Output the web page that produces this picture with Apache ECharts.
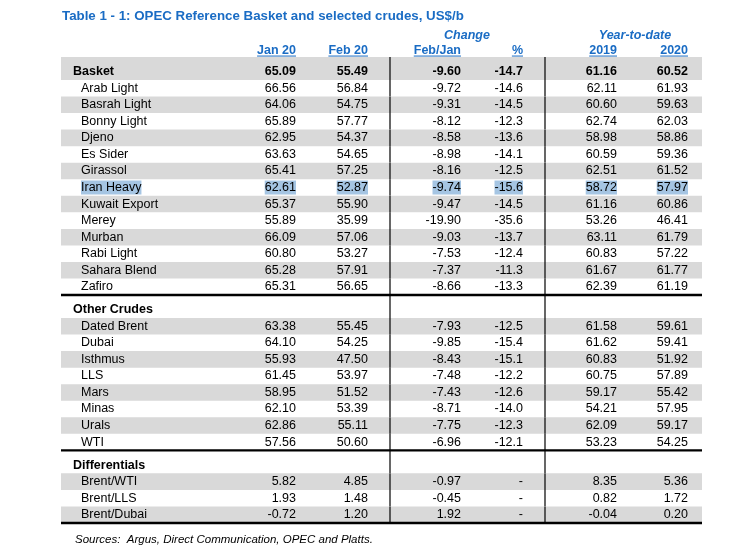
<!DOCTYPE html>
<html>
<head>
<meta charset="utf-8">
<script src="https://cdn.jsdelivr.net/npm/echarts@6/dist/echarts.min.js"></script>
<style>
	html, body { margin: 0; background: #fff; }
	#main { width: 749px; height: 551px; }
</style>
</head>
<body>
<div id="main"></div>
<script>
// ---- data ----
var sectionSizes = [14, 9, 4];
var rowNames = [
	'Basket', 'Arab Light', 'Basrah Light', 'Bonny Light', 'Djeno', 'Es Sider', 'Girassol',
	'Iran Heavy', 'Kuwait Export', 'Merey', 'Murban', 'Rabi Light', 'Sahara Blend', 'Zafiro',
	'Other Crudes', 'Dated Brent', 'Dubai', 'Isthmus', 'LLS', 'Mars', 'Minas', 'Urals', 'WTI',
	'Differentials', 'Brent/WTI', 'Brent/LLS', 'Brent/Dubai'
];
var jan20 = [
	65.09, 66.56, 64.06, 65.89, 62.95, 63.63, 65.41, 62.61, 65.37, 55.89, 66.09, 60.80, 65.28, 65.31,
	null, 63.38, 64.10, 55.93, 61.45, 58.95, 62.10, 62.86, 57.56,
	null, 5.82, 1.93, -0.72
];
var feb20 = [
	55.49, 56.84, 54.75, 57.77, 54.37, 54.65, 57.25, 52.87, 55.90, 35.99, 57.06, 53.27, 57.91, 56.65,
	null, 55.45, 54.25, 47.50, 53.97, 51.52, 53.39, 55.11, 50.60,
	null, 4.85, 1.48, 1.20
];
var changeFebJan = [
	-9.60, -9.72, -9.31, -8.12, -8.58, -8.98, -8.16, -9.74, -9.47, -19.90, -9.03, -7.53, -7.37, -8.66,
	null, -7.93, -9.85, -8.43, -7.48, -7.43, -8.71, -7.75, -6.96,
	null, -0.97, -0.45, 1.92
];
var changePct = [
	-14.7, -14.6, -14.5, -12.3, -13.6, -14.1, -12.5, -15.6, -14.5, -35.6, -13.7, -12.4, -11.3, -13.3,
	null, -12.5, -15.4, -15.1, -12.2, -12.6, -14.0, -12.3, -12.1,
	null, null, null, null
];
var ytd2019 = [
	61.16, 62.11, 60.60, 62.74, 58.98, 60.59, 62.51, 58.72, 61.16, 53.26, 63.11, 60.83, 61.67, 62.39,
	null, 61.58, 61.62, 60.83, 60.75, 59.17, 54.21, 62.09, 53.23,
	null, 8.35, 0.82, -0.04
];
var ytd2020 = [
	60.52, 61.93, 59.63, 62.03, 58.86, 59.36, 61.52, 57.97, 60.86, 46.41, 61.79, 57.22, 61.77, 61.19,
	null, 59.61, 59.41, 51.92, 57.89, 55.42, 57.95, 59.17, 54.25,
	null, 5.36, 1.72, 0.20
];
var columnHeads = ['Jan 20', 'Feb 20', 'Feb/Jan', '%', '2019', '2020'];
var groupHeads = ['Change', 'Year-to-date'];
var titleText = 'Table 1 - 1: OPEC Reference Basket and selected crudes, US$/b';
var sourceText = 'Sources:  Argus, Direct Communication, OPEC and Platts.';

// ---- layout / style ----
var FONT = '"Liberation Sans", Arial, sans-serif';
var FS = 12.5;
var BLUE = '#1a6cc4';
var BAND = '#d9d9d9';
var MARK = '#a5c5e3';
var markedRow = 'Iran Heavy';
var GAP = 0.39;                       // extra space above each section head, in rows
var TABLE_LEFT = 61, TABLE_RIGHT = 702;
var NAME_X = 73, ITEM_X = 81;
var colRight = [296, 368, 461, 523, 617, 688];
var groupCenter = [467, 635];
var dividers = [390, 545];
var YMIN = -0.5 - GAP;
var YMAX = rowNames.length - 1 + (sectionSizes.length - 1) * GAP + 0.5;

var sectionOf = [], rowInSection = [], rowY = [];
(function () {
	var k = 0;
	for (var s = 0; s < sectionSizes.length; s++) {
		for (var r = 0; r < sectionSizes[s]; r++) {
			sectionOf.push(s);
			rowInSection.push(r);
			rowY.push(k + s * GAP);
			k++;
		}
	}
})();

var measureCtx = document.createElement('canvas').getContext('2d');
function textWidth(txt, font) {
	measureCtx.font = font;
	return measureCtx.measureText(txt).width;
}

function fmt(v, d) {
	return v == null ? '' : v.toFixed(d);
}

function cellText(x, y, txt, bold, marked, align) {
	return {
		type: 'text',
		style: {
			x: x, y: y, text: txt,
			font: (bold ? 'bold ' : '') + FS + 'px ' + FONT,
			fill: '#000',
			align: align || 'right',
			verticalAlign: 'middle',
			backgroundColor: marked ? MARK : null,
			padding: marked ? [1, 0, 0, 0] : 0
		}
	};
}

function renderRow(params, api) {
	var k = params.dataIndex;
	var yc = api.value(1);
	var s = sectionOf[k], r = rowInSection[k];
	var isHead = r === 0;
	var top = isHead ? yc - 0.5 - GAP : yc - 0.5;
	var bottom = yc + 0.5;
	var p0 = api.coord([TABLE_LEFT, top]);
	var p1 = api.coord([TABLE_RIGHT, bottom]);
	var mid = api.coord([0, yc])[1];
	var children = [];

	var shaded = s === 0 ? r % 2 === 0 : r % 2 === 1;
	if (shaded) {
		children.push({
			type: 'rect',
			shape: { x: p0[0], y: p0[1], width: p1[0] - p0[0], height: p1[1] - p0[1] },
			style: { fill: BAND }
		});
	}
	dividers.forEach(function (dx) {
		var a = api.coord([dx, top]), b = api.coord([dx, bottom]);
		children.push({
			type: 'line',
			shape: { x1: a[0], y1: a[1], x2: b[0], y2: b[1] },
			style: { stroke: '#000', lineWidth: 1.2 }
		});
	});
	if (r === sectionSizes[s] - 1) {
		children.push({
			type: 'line',
			shape: { x1: p0[0], y1: p1[1], x2: p1[0], y2: p1[1] },
			style: { stroke: '#000', lineWidth: 2.4 }
		});
	}

	var marked = rowNames[k] === markedRow;
	var nx = api.coord([isHead ? NAME_X : ITEM_X, yc])[0];
	children.push(cellText(nx, mid, rowNames[k], isHead, marked, 'left'));

	if (jan20[k] != null) {
		var bold = s === 0 && isHead;
		var cells = [
			fmt(jan20[k], 2), fmt(feb20[k], 2), fmt(changeFebJan[k], 2),
			changePct[k] == null ? '-' : fmt(changePct[k], 1),
			fmt(ytd2019[k], 2), fmt(ytd2020[k], 2)
		];
		cells.forEach(function (txt, c) {
			var x = api.coord([colRight[c], yc])[0];
			children.push(cellText(x, mid, txt, bold, marked && txt !== '-', 'right'));
		});
	}
	return { type: 'group', children: children };
}

function renderHead(params, api) {
	var children = [];
	var headFont = 'bold ' + FS + 'px ' + FONT;
	var rowY2 = api.coord([0, YMIN - 0.42])[1];
	var rowY1 = api.coord([0, YMIN - 1.3])[1];
	groupHeads.forEach(function (txt, i) {
		children.push({
			type: 'text',
			style: {
				x: api.coord([groupCenter[i], 0])[0], y: rowY1, text: txt,
				font: 'italic bold ' + FS + 'px ' + FONT,
				fill: BLUE, align: 'center', verticalAlign: 'middle'
			}
		});
	});
	columnHeads.forEach(function (txt, c) {
		var x = api.coord([colRight[c], 0])[0];
		var w = textWidth(txt, headFont);
		children.push({
			type: 'text',
			style: {
				x: x, y: rowY2, text: txt, font: headFont,
				fill: BLUE, align: 'right', verticalAlign: 'middle'
			}
		});
		children.push({
			type: 'line',
			shape: { x1: x - w, y1: rowY2 + 6, x2: x, y2: rowY2 + 6 },
			style: { stroke: BLUE, lineWidth: 1 }
		});
	});
	return { type: 'group', children: children };
}

var myChart = echarts.init(document.getElementById('main'), null, { renderer: 'canvas' });

var option = {
	backgroundColor: '#fff',
	animation: false,
	title: {
		text: titleText,
		left: 62,
		top: 10,
		padding: 0,
		textStyle: { fontFamily: FONT, fontSize: 13.3, fontWeight: 'bold', color: BLUE }
	},
	grid: { left: 0, right: 0, top: 57, bottom: 28 },
	xAxis: { type: 'value', min: 0, max: 749, show: false },
	yAxis: { type: 'value', min: YMIN, max: YMAX, inverse: true, show: false },
	graphic: [{
		type: 'text',
		left: 75,
		top: 534,
		style: {
			text: sourceText,
			font: 'italic 11.5px ' + FONT,
			fill: '#000'
		}
	}],
	series: [
		{
			type: 'custom',
			name: 'rows',
			silent: true,
			clip: false,
			renderItem: renderRow,
			data: rowNames.map(function (n, k) { return [0, rowY[k]]; })
		},
		{
			type: 'custom',
			name: 'heads',
			silent: true,
			clip: false,
			renderItem: renderHead,
			data: [[0, 0]]
		}
	]
};

myChart.setOption(option);
</script>
</body>
</html>
